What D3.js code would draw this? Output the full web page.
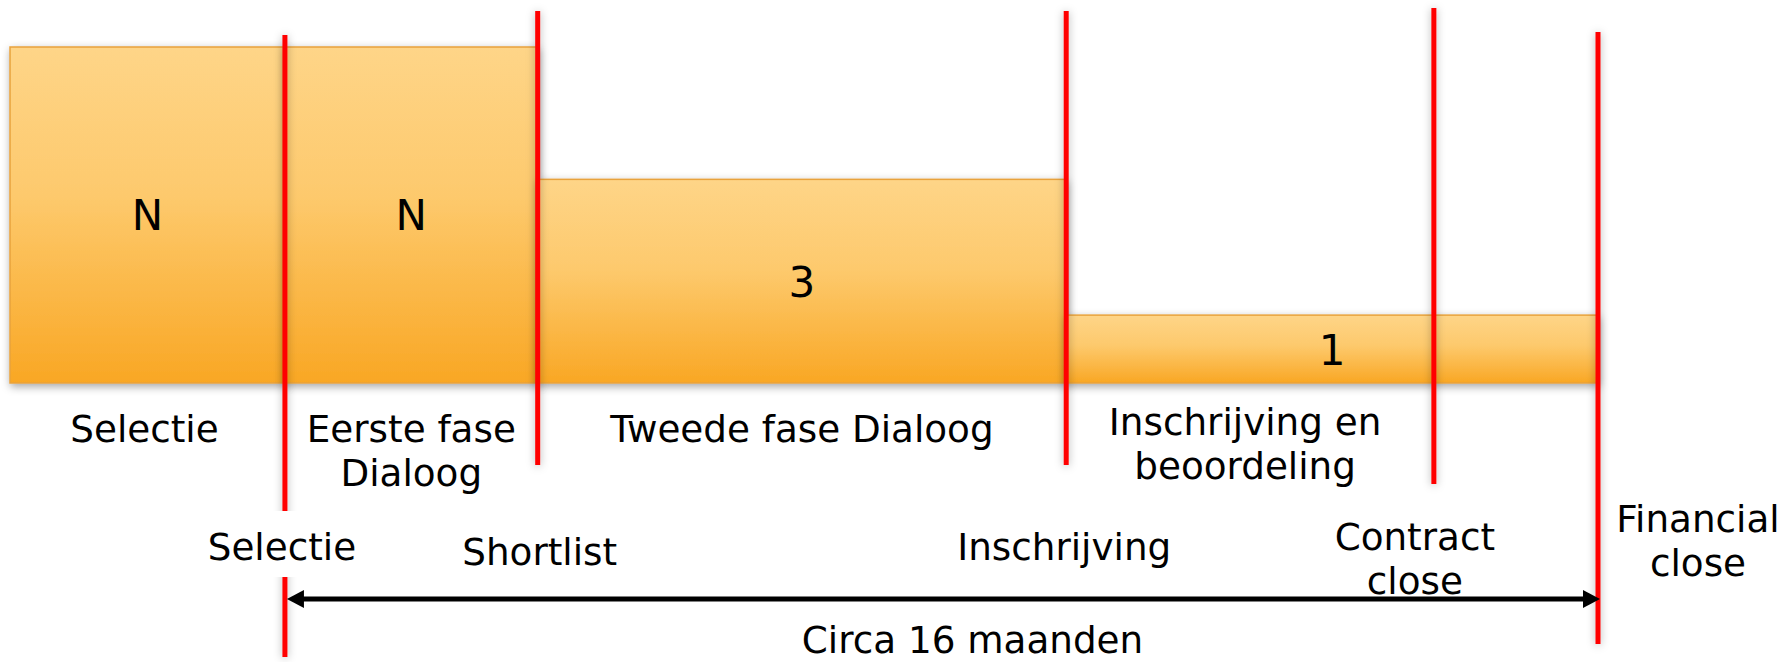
<!DOCTYPE html>
<html>
<head>
<meta charset="utf-8">
<script src="https://cdn.jsdelivr.net/npm/d3@7"></script>
<style>
  html, body { margin: 0; padding: 0; background: #fff; }
  svg { display: block; font-family: "DejaVu Sans", Verdana, sans-serif; }
</style>
</head>
<body>
<svg id="chart"></svg>
<script>
// Phases (the orange bars): name, number of candidates, bar level, start / end in months
const phaseNames = [["Selectie"], ["Eerste fase", "Dialoog"], ["Tweede fase Dialoog"], ["Inschrijving en", "beoordeling"]];
const phaseCounts = ["N", "N", "3", "1"];
const phaseLevels = [4.95, 4.95, 3, 1];
const phaseStart = [-3.35, 0, 3.08, 9.52];
const phaseEnd = [0, 3.08, 9.52, 16];

// Milestones (red lines), months counted from "Selectie"
const milestoneNames = [["Selectie"], ["Shortlist"], ["Inschrijving"], ["Contract", "close"], ["Financial", "close"]];
const milestoneMonths = [0, 3.08, 9.52, 14, 16];

// Duration arrow
const spanLabel = "Circa 16 maanden";
const spanMonths = [0, 16];

// Layout
const W = 1787, H = 662;
const barBottom = 383;
const fontSize = 37.3;
const lineHeight = 43.5;
const lineSpan = [[35, 657], [11, 465], [11, 465], [8, 484], [32, 644]];
const phaseLabelDx = [-3, 0, 0, -87];
const phaseLabelY = [442, 442, 442, 435];
const milestoneLabelDx = [-3, 2, -2, -19, 100];
const milestoneLabelY = [560, 565, 560, 550, 532];
const arrowY = 599;

const svg = d3.select("#chart")
  .attr("width", W)
  .attr("height", H);

const x = d3.scaleLinear()
  .domain([phaseStart[0], milestoneMonths[milestoneMonths.length - 1]])
  .range([10, 1598]);

const y = d3.scaleLinear()
  .domain([0, 5])
  .range([barBottom, 43.6]);

// defs: gradient + shadows
const defs = svg.append("defs");
const grad = defs.append("linearGradient")
  .attr("id", "barFill")
  .attr("x1", 0).attr("y1", 0).attr("x2", 0).attr("y2", 1);
grad.append("stop").attr("offset", "0%").attr("stop-color", "#fed588");
grad.append("stop").attr("offset", "45%").attr("stop-color", "#fdc96c");
grad.append("stop").attr("offset", "100%").attr("stop-color", "#f9a724");

defs.append("filter")
  .attr("id", "barShadow")
  .attr("filterUnits", "userSpaceOnUse")
  .attr("x", 0).attr("y", 0).attr("width", W).attr("height", H)
  .append("feDropShadow")
  .attr("dx", 1).attr("dy", 3)
  .attr("stdDeviation", 4)
  .attr("flood-color", "#000")
  .attr("flood-opacity", 0.35);

defs.append("filter")
  .attr("id", "lineShadow")
  .attr("filterUnits", "userSpaceOnUse")
  .attr("x", 0).attr("y", 0).attr("width", W).attr("height", H)
  .append("feDropShadow")
  .attr("dx", 0).attr("dy", 1)
  .attr("stdDeviation", 4)
  .attr("flood-color", "#000")
  .attr("flood-opacity", 0.3);

const phases = phaseNames.map((name, i) => ({
  name, count: phaseCounts[i], level: phaseLevels[i],
  start: phaseStart[i], end: phaseEnd[i],
  dx: phaseLabelDx[i], ly: phaseLabelY[i]
}));

const milestones = milestoneNames.map((name, i) => ({
  name, month: milestoneMonths[i],
  span: lineSpan[i], dx: milestoneLabelDx[i], ly: milestoneLabelY[i]
}));

// bars
svg.append("g")
  .selectAll("rect")
  .data(phases)
  .join("rect")
  .attr("x", d => x(d.start))
  .attr("y", d => y(d.level))
  .attr("width", d => x(d.end) - x(d.start))
  .attr("height", d => barBottom - y(d.level))
  .attr("fill", "url(#barFill)")
  .attr("stroke", "#e8a23c")
  .attr("stroke-width", 1.5)
  .attr("filter", "url(#barShadow)");

// counts inside bars
svg.append("g")
  .selectAll("text")
  .data(phases)
  .join("text")
  .attr("x", d => (x(d.start) + x(d.end)) / 2)
  .attr("y", d => (y(d.level) + barBottom) / 2 + 15.5)
  .attr("text-anchor", "middle")
  .attr("font-size", 42)
  .attr("fill", "#000")
  .text(d => d.count);

// phase labels under the bars
const phaseText = svg.append("g")
  .selectAll("text")
  .data(phases)
  .join("text")
  .attr("text-anchor", "middle")
  .attr("font-size", fontSize)
  .attr("fill", "#000");

phaseText.selectAll("tspan")
  .data(d => d.name.map((t, k) => ({ t, k, d })))
  .join("tspan")
  .attr("x", e => (x(e.d.start) + x(e.d.end)) / 2 + e.d.dx)
  .attr("y", e => e.d.ly + e.k * lineHeight)
  .text(e => e.t);

// red milestone lines
svg.append("g")
  .selectAll("line")
  .data(milestones)
  .join("line")
  .attr("x1", d => x(d.month))
  .attr("x2", d => x(d.month))
  .attr("y1", d => d.span[0])
  .attr("y2", d => d.span[1])
  .attr("stroke", "#ff0000")
  .attr("stroke-width", 5)
  .attr("filter", "url(#lineShadow)");

// milestone labels (white box behind, as in the original text boxes)
const mGroup = svg.append("g")
  .selectAll("g")
  .data(milestones)
  .join("g");

mGroup.append("rect").attr("fill", "#fff");

const mText = mGroup.append("text")
  .attr("text-anchor", "middle")
  .attr("font-size", fontSize)
  .attr("fill", "#000");

mText.selectAll("tspan")
  .data(d => d.name.map((t, k) => ({ t, k, d })))
  .join("tspan")
  .attr("x", e => x(e.d.month) + e.d.dx)
  .attr("y", e => e.d.ly + e.k * lineHeight)
  .text(e => e.t);

mGroup.each(function() {
  const g = d3.select(this);
  const bb = g.select("text").node().getBBox();
  g.select("rect")
    .attr("x", bb.x - 4)
    .attr("y", bb.y - 14)
    .attr("width", bb.width + 8)
    .attr("height", bb.height + 22);
});

// duration arrow
const ax1 = x(spanMonths[0]) + 2, ax2 = x(spanMonths[1]) + 2;
const head = 17, half = 9;
const arrow = svg.append("g");
arrow.append("line")
  .attr("x1", ax1 + head - 2).attr("x2", ax2 - head + 2)
  .attr("y1", arrowY).attr("y2", arrowY)
  .attr("stroke", "#000")
  .attr("stroke-width", 5);
arrow.append("path")
  .attr("d", `M${ax1},${arrowY} L${ax1 + head},${arrowY - half} L${ax1 + head},${arrowY + half} Z`)
  .attr("fill", "#000");
arrow.append("path")
  .attr("d", `M${ax2},${arrowY} L${ax2 - head},${arrowY - half} L${ax2 - head},${arrowY + half} Z`)
  .attr("fill", "#000");

svg.append("text")
  .attr("x", (x(spanMonths[0]) + x(spanMonths[1])) / 2 + 31)
  .attr("y", 653)
  .attr("text-anchor", "middle")
  .attr("font-size", fontSize)
  .attr("fill", "#000")
  .text(spanLabel);
</script>
</body>
</html>
